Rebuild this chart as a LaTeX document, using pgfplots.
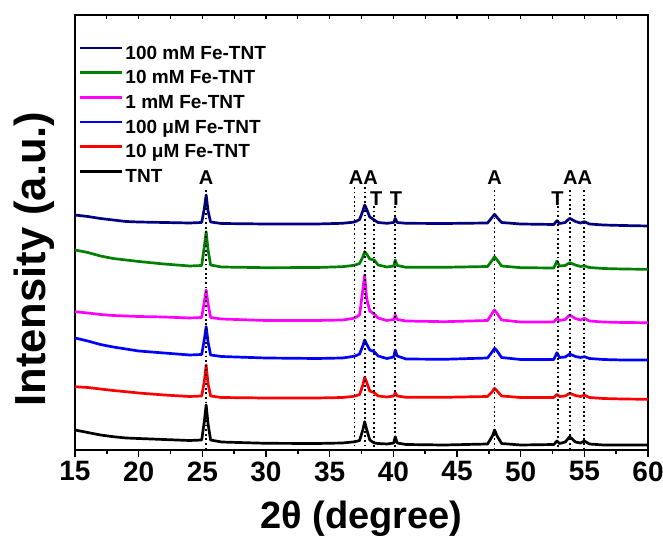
\documentclass[border=0pt]{standalone}
\usepackage{pgfplots}
\pgfplotsset{compat=1.18}
\usepackage{pgfplotstable}
\usepackage{fontspec}
\setmainfont{Liberation Sans}
\definecolor{cnavy}{RGB}{0,0,128}
\definecolor{cgreen}{RGB}{0,128,0}
\definecolor{cmag}{RGB}{255,0,255}
\definecolor{cblue}{RGB}{0,0,255}
\definecolor{cred}{RGB}{255,0,0}

\pgfplotstableread{
x     k    r    b     m     g     n
15    20   63.3 112   138.3 200   235
16    17.5 62.5 109   137   197.5 233.5
17    15   61   105.5 135.5 194   231.5
18    13.3 59.5 103   134.5 191.5 230
19    12   58.3 101   134   190   228.5
20    11.5 57   99    133.5 188.5 228
22    10.5 55   97    133   186   227.5
24    9.5  53.5 95    132   184   227
24.95 10   54   95.5  132.5 184.5 227.5
25.15 28   68   110   148   203   241
25.3  45   85   123.3 160   218.3 255
25.45 26   66   108   146   200   239
25.65 10   54   95    132.5 185   228
26.5  8    52.5 93.5  131   183   226.5
30    6.7  52   92    129.5 182.3 226
34    6.5  52   91.5  129.5 182.5 226
36    7    52.5 92    130   183.3 226.7
36.8  8    53.5 93.5  131.5 184.5 227.7
37.0  8.3  54   94    132.3 185   228.3
37.35 9.5  55.5 96    135   186.5 230.5
37.6  20   65   104   160   193   239
37.75 28.3 72.7 110   175   198.3 245
37.9  21   68   106   152   196   241
38.15 10   59   100   139   191   233
38.5  7    57.3 98.3  136   190   230
38.8  6.5  54   94    132   185   227.5
39.5  6    53   91.5  129.5 183   226.7
40.03 7    54   93    130.5 184   227.5
40.15 13.3 57.3 100   135   190   231.7
40.3  7    54   94    130.5 184.5 227.5
41    5.5  52.7 91    129   182.7 226.7
44    5    52.7 90.7  128.3 182.7 226.5
47.4  6    53.5 92    129.5 183.5 227
47.78 14   58.5 98.5 137    190   233
47.95 20   61.7 101.7 140   193.3 235.7
48.15 14   59   99    136.5 190   232.5
48.5  6.5  54   92.5  130   184   227.5
50    5    52.5 90.5  128   182.3 226
52.6  5.5  52.5 90.5  128   182   225.5
52.85 9    55.7 97.3  131.7 189   229.3
53.05 6.5  53.5 92.5  129.5 184   226.5
53.5  8    54   93    130.5 184.5 227.5
53.85 13.3 56.7 96    135   187.3 231.7
54.3  8    54.5 93.5  131.5 185   228.5
54.7  7    53.5 92.5  130   183.5 227
55.0  9    55   93.3  131.7 184   228.3
55.4  6    52.5 91.5  129   182.5 226
56.5  5    51.5 90.5  128   181.5 225
58    5    51   90    127.5 181   224.5
60    5    50.7 90    127.3 180.7 224
}\xrd

\begin{document}
\begin{tikzpicture}
\begin{axis}[name=main,
  scale only axis, width=573pt, height=435pt,
  xmin=15, xmax=60, ymin=0, ymax=435,
  xtick={15,20,...,60}, minor x tick num=1, ytick=\empty,
  xtick pos=left, tick align=outside,
  major tick length=7pt, minor tick length=4pt,
  tick style={black, line width=1.6pt},
  axis line style={line width=2.2pt},
  /pgf/number format/assume math mode=true,
  xticklabel style={font=\fontsize{28}{28}\selectfont\bfseries, yshift=-1pt},
  xlabel={2θ (degree)},
  xlabel style={font=\fontsize{38}{38}\selectfont\bfseries, at={(axis description cs:0.5,-0.157)}, anchor=center},
  ylabel={Intensity (a.u.)},
  ylabel style={font=\fontsize{43.5}{43.5}\selectfont\bfseries, at={(axis description cs:-0.0716,0.439)}, anchor=center},
  legend style={at={(axis description cs:0,1)}, anchor=north west, xshift=3pt, yshift=-30pt,
    draw=none, fill=none, font=\fontsize{19}{19}\selectfont\bfseries, inner sep=0pt, row sep=6.2pt,
    nodes={inner ysep=0pt, inner xsep=2.5pt, text height=14pt, text depth=4.5pt}},
  legend cell align=left,
  legend image code/.code={\draw[#1, line width=2.8pt] (0pt,6.5pt) -- (42pt,6.5pt);},
  no markers,
]
\addplot[cnavy, line width=2.7pt, line join=round] table[x=x,y=n]{\xrd};
\addplot[cgreen, line width=2.7pt, line join=round] table[x=x,y=g]{\xrd};
\addplot[cmag, line width=2.7pt, line join=round] table[x=x,y=m]{\xrd};
\addplot[cblue, line width=2.7pt, line join=round] table[x=x,y=b]{\xrd};
\addplot[cred, line width=2.7pt, line join=round] table[x=x,y=r]{\xrd};
\addplot[black, line width=2.7pt, line join=round] table[x=x,y=k]{\xrd};
\legend{100 mM Fe-TNT, 10 mM Fe-TNT, 1 mM Fe-TNT, 100 μM Fe-TNT, 10 μM Fe-TNT, TNT}

\draw[black, line width=1.8pt, dash pattern=on 1.8pt off 2.8pt] (axis cs:25.3,260) -- (axis cs:25.3,0);
\draw[black, line width=1.8pt, dash pattern=on 1.8pt off 2.8pt] (axis cs:36.95,263) -- (axis cs:36.95,0);
\draw[black, line width=1.8pt, dash pattern=on 1.8pt off 2.8pt] (axis cs:37.8,263) -- (axis cs:37.8,0);
\draw[black, line width=1.8pt, dash pattern=on 1.8pt off 2.8pt] (axis cs:38.5,244) -- (axis cs:38.5,0);
\draw[black, line width=1.8pt, dash pattern=on 1.8pt off 2.8pt] (axis cs:40.15,244) -- (axis cs:40.15,0);
\draw[black, line width=1.8pt, dash pattern=on 1.8pt off 2.8pt] (axis cs:47.95,260) -- (axis cs:47.95,0);
\draw[black, line width=1.8pt, dash pattern=on 1.8pt off 2.8pt] (axis cs:52.9,244) -- (axis cs:52.9,0);
\draw[black, line width=1.8pt, dash pattern=on 1.8pt off 2.8pt] (axis cs:53.85,260) -- (axis cs:53.85,0);
\draw[black, line width=1.8pt, dash pattern=on 1.8pt off 2.8pt] (axis cs:54.95,260) -- (axis cs:54.95,0);

\node[font=\fontsize{20}{20}\selectfont\bfseries] at (axis cs:25.3,272) {A};
\node[font=\fontsize{20}{20}\selectfont\bfseries] at (axis cs:37.65,272) {AA};
\node[font=\fontsize{20}{20}\selectfont\bfseries] at (axis cs:38.65,251) {T};
\node[font=\fontsize{20}{20}\selectfont\bfseries] at (axis cs:40.2,251) {T};
\node[font=\fontsize{20}{20}\selectfont\bfseries] at (axis cs:47.95,272) {A};
\node[font=\fontsize{20}{20}\selectfont\bfseries] at (axis cs:52.9,251) {T};
\node[font=\fontsize{20}{20}\selectfont\bfseries] at (axis cs:54.47,272) {AA};
\end{axis}
\begin{axis}[
  scale only axis, width=573pt, height=435pt,
  xmin=15, xmax=60, ymin=0, ymax=435,
  axis x line*=top, axis y line=none,
  xtick distance=2.5, xticklabels={},
  tick align=inside, major tick length=4pt,
  tick style={black, line width=1.2pt},
  axis line style={line width=2.2pt},
]
\addplot[draw=none] coordinates {(15,0) (60,0)};
\end{axis}
\pgfresetboundingbox
\path[use as bounding box] (main.south west) ++(-75pt,-87pt) rectangle ++(663pt,537pt);
\end{tikzpicture}
\end{document}
